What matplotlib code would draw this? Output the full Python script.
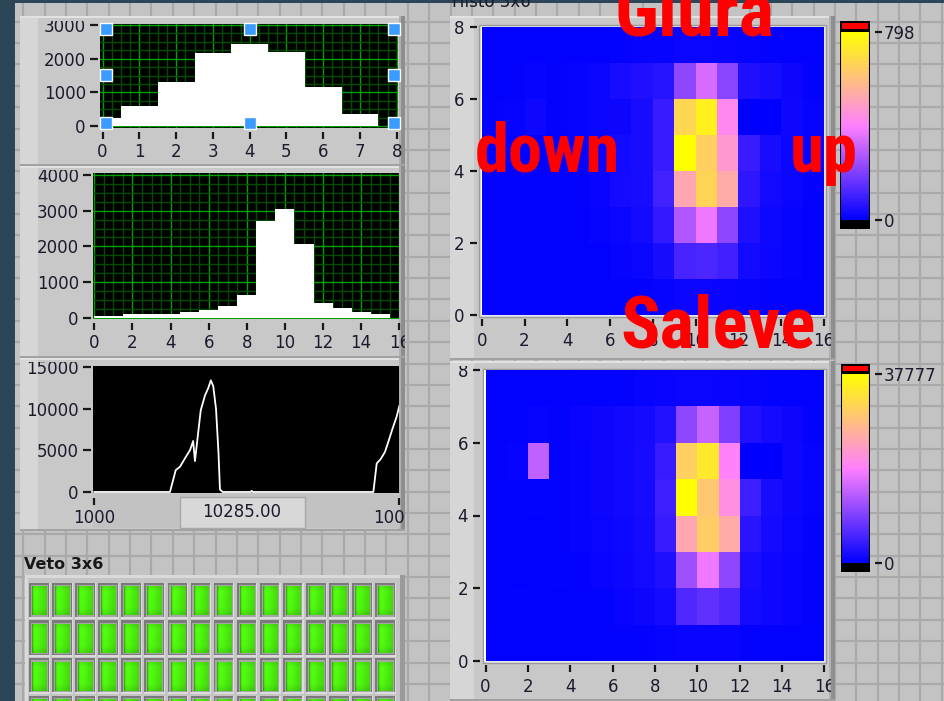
import numpy as np
import matplotlib
matplotlib.use("Agg")
import matplotlib.pyplot as plt
from matplotlib.colors import LinearSegmentedColormap
from matplotlib.patches import Rectangle
from matplotlib.transforms import Bbox, TransformedBbox
from matplotlib import font_manager

# ---------------- data ----------------
hist1_bins = [0, 1, 2, 3, 4, 5, 6, 7, 8]
hist1_counts = [230, 594, 1297, 2158, 2426, 2208, 1148, 346, 0]

hist2_bins = [0, 1, 2, 3, 4, 5, 6, 7, 8, 9, 10, 11, 12, 13, 14, 15, 16]
hist2_counts = [56, 56, 100, 100, 100, 150, 205, 327, 626, 2710, 3056, 2056, 402, 262, 168, 100, 0]

wave_x = [0, 24.8, 26.7, 28.1, 29.7, 31.4, 32.4, 33.0, 33.9, 34.9, 36.3, 37.4, 38.2, 39.0, 39.9, 40.7,
          41.2, 42.1, 51.3, 51.6, 51.9, 91.5, 92.6, 93.9, 95.3, 96.4, 97.8, 99.1, 100]
wave_y = [0, 0, 2630, 3030, 4030, 5030, 6120, 3710, 6620, 9810, 11600, 12500, 13400, 12700, 10000, 4830,
          300, 0, 0, 150, 0, 0, 3430, 3950, 4800, 6020, 7620, 9000, 10300]
wave_ticks = [0, 100]
wave_ticklabels = ["1000", "10000"]
wave_readout = "10285.00"

# intensity histograms, rows from y=0 (bottom) to y=7 (top), 16 columns
histo_top = [
    [4, 4, 4, 4, 4, 4, 6, 8, 10, 16, 16, 14, 10, 8, 6, 4],
    [8, 4, 4, 4, 4, 6, 10, 16, 38, 112, 120, 100, 30, 20, 10, 6],
    [6, 4, 4, 4, 6, 10, 16, 30, 80, 275, 375, 223, 48, 24, 12, 6],
    [6, 6, 4, 6, 8, 14, 34, 40, 104, 523, 662, 535, 72, 30, 16, 8],
    [6, 8, 6, 6, 10, 16, 30, 40, 88, 798, 646, 471, 88, 40, 18, 10],
    [8, 10, 24, 8, 10, 16, 20, 40, 88, 670, 750, 423, 0, 0, 24, 12],
    [6, 8, 10, 8, 10, 16, 40, 48, 60, 223, 335, 215, 48, 40, 20, 8],
    [4, 4, 4, 4, 6, 6, 8, 10, 12, 16, 16, 14, 10, 8, 6, 4],
]
histo_top_max = 798

histo_bot = [
    [200, 200, 200, 200, 200, 300, 300, 400, 500, 700, 700, 600, 400, 300, 200, 200],
    [300, 300, 200, 200, 300, 400, 600, 900, 1500, 6000, 7200, 6000, 1500, 1100, 600, 300],
    [300, 200, 200, 300, 400, 700, 900, 1400, 2300, 11700, 17800, 10600, 2000, 1100, 600, 300],
    [400, 300, 200, 300, 500, 800, 1100, 1500, 4200, 24700, 30200, 25300, 3000, 1500, 800, 400],
    [300, 400, 300, 300, 500, 900, 1300, 1700, 4500, 37777, 29500, 21200, 4500, 1900, 900, 500],
    [400, 500, 14200, 400, 500, 900, 1300, 1700, 4200, 30600, 34400, 19300, 0, 0, 1100, 500],
    [300, 400, 500, 400, 600, 900, 1300, 1500, 2600, 10600, 14700, 9400, 2400, 1500, 900, 400],
    [200, 200, 200, 200, 300, 300, 400, 500, 600, 800, 800, 700, 500, 400, 300, 200],
]
histo_bot_max = 37777

veto_leds = [
    [1, 1, 1, 1, 1, 1, 1, 1, 1, 1, 1, 1, 1, 1, 1, 1],
    [1, 1, 1, 1, 1, 1, 1, 1, 1, 1, 1, 1, 1, 1, 1, 1],
    [1, 1, 1, 1, 1, 1, 1, 1, 1, 1, 1, 1, 1, 1, 1, 1],
    [1, 1, 1, 1, 1, 1, 1, 1, 1, 1, 1, 1, 1, 1, 1, 1],
]

# ---------------- setup ----------------
W, H = 945, 701
P = 0.72  # points per pixel at dpi 100
TXT = '#1c1a2c'
plt.rcParams['font.family'] = ['DejaVu Sans']
plt.rcParams['font.size'] = 12

fig = plt.figure(figsize=(W / 100, H / 100), dpi=100)
fig.patch.set_facecolor('#c3c3c3')


def rect_px(x0, y0, x1, y1):
    return [x0 / W, 1 - y1 / H, (x1 - x0) / W, (y1 - y0) / H]


def clipbox_px(x0, y0, x1, y1):
    return TransformedBbox(Bbox([[x0 / W, 1 - y1 / H], [x1 / W, 1 - y0 / H]]), fig.transFigure)


bg = fig.add_axes([0, 0, 1, 1], zorder=-10)
bg.set_xlim(0, W)
bg.set_ylim(H, 0)
bg.axis('off')

# background grid
gx = np.arange(23.3 - 21.36, W, 21.36)
gy = np.arange(534.4 - 25 * 21.36, H, 21.36)
bg.vlines(gx, 0, H, color='#a9a9a9', lw=1.6, zorder=0.2)
bg.hlines(gy, 0, W, color='#a9a9a9', lw=1.6, zorder=0.2)
bg.add_patch(Rectangle((0, 0), 15, H, facecolor='#2c4657', edgecolor='none', zorder=1))
bg.add_patch(Rectangle((0, 0), W, 2.5, facecolor='#2c4657', edgecolor='none', zorder=1))


def panel(x0, y0, x1, y1, strip=18):
    bg.add_patch(Rectangle((x0, y0), x1 - x0, y1 - y0, facecolor='#c8c8c8', edgecolor='none'))
    bg.add_patch(Rectangle((x0, y0), strip, y1 - y0, facecolor='#d6d6d6', edgecolor='none'))
    bg.add_patch(Rectangle((x0, y0), x1 - x0, 1.5, facecolor='#e2e2e2', edgecolor='none'))
    bg.add_patch(Rectangle((x1 - 4, y0), 4, y1 - y0, facecolor='#8e8e8e', edgecolor='none'))
    bg.add_patch(Rectangle((x1 - 6, y0), 2, y1 - y0, facecolor='#b0b0b0', edgecolor='none'))
    bg.add_patch(Rectangle((x0, y1 - 2), x1 - x0, 2, facecolor='#a2a2a2', edgecolor='none'))


P1 = (20, 16, 405, 166)
P2 = (20, 166, 405, 358)
P3 = (20, 358, 405, 531)
PH1 = (450, 16, 835, 360)
PH2 = (450, 361, 835, 701)
for p in (P1, P2, P3):
    panel(*p)
for p in (PH1, PH2):
    panel(*p, strip=24)

# lower strip of the chart (scroll area + readout)
bg.add_patch(Rectangle((93, 494), 307, 34, facecolor='#c2c2c2', edgecolor='none'))
bg.add_patch(Rectangle((180, 497), 125, 31, facecolor='#d8d8d8', edgecolor='#a8a8a8', lw=1))
bg.text(242, 512, wave_readout, ha='center', va='center', fontsize=12, color=TXT)

# LED panel
bg.add_patch(Rectangle((25, 575), 380, 130, facecolor='#c4c4c4', edgecolor='none'))
bg.add_patch(Rectangle((25, 575), 380, 3, facecolor='#dadada', edgecolor='none'))
bg.add_patch(Rectangle((25, 575), 3, 130, facecolor='#dadada', edgecolor='none'))
bg.add_patch(Rectangle((400, 575), 5, 130, facecolor='#9a9a9a', edgecolor='none'))
bg.text(24, 569, 'Veto 3x6', ha='left', va='baseline', fontsize=11.5, fontweight='bold', color='#181818')

bg.text(452, 7, 'Histo 3x6', ha='left', va='baseline', fontsize=12, color=TXT)


def style_axes(ax, clip_rect, ygap=2, ylen=8, xgap=4, xlen=7, ypad=3, xpad=3):
    for s in ax.spines.values():
        s.set_visible(False)
    ax.spines['left'].set_position(('outward', ygap * P))
    ax.spines['bottom'].set_position(('outward', xgap * P))
    ax.tick_params(axis='y', which='major', direction='out', length=ylen * P, width=1.6,
                   color='#181818', pad=ypad, labelsize=12, labelcolor=TXT)
    ax.tick_params(axis='x', which='major', direction='out', length=xlen * P, width=1.6,
                   color='#181818', pad=xpad, labelsize=12, labelcolor=TXT)
    ax.tick_params(which='minor', length=0)
    cb = clipbox_px(*clip_rect)
    for lab in ax.get_xticklabels() + ax.get_yticklabels():
        lab.set_clip_box(cb)
        lab.set_clip_on(True)


def green_grid(ax, xmin, ymin):
    ax.set_xticks(xmin, minor=True)
    ax.set_yticks(ymin, minor=True)
    ax.grid(which='minor', color='#004d00', lw=1.0, zorder=1)
    ax.grid(which='major', color='#00a000', lw=1.0, zorder=1)


# ---------------- histogram 1 ----------------
ax1 = fig.add_axes(rect_px(100, 24, 398.3, 127.7))
ax1.set_facecolor('black')
ax1.fill_between(hist1_bins, hist1_counts, step='mid', color='white', lw=0, zorder=3)
ax1.set_xlim(-0.07, 8.04)
ax1.set_ylim(-50, 3030)
ax1.set_xticks(range(0, 9))
ax1.set_yticks([0, 1000, 2000, 3000])
green_grid(ax1, np.arange(0, 8.01, 0.25), np.arange(0, 3001, 250))
ax1.set_axisbelow(True)
style_axes(ax1, (20, 21, 405, 166))

# ---------------- histogram 2 ----------------
ax2 = fig.add_axes(rect_px(93, 173, 399.5, 319.3))
ax2.set_facecolor('black')
ax2.fill_between(hist2_bins, hist2_counts, step='mid', color='white', lw=0, zorder=3)
ax2.set_xlim(-0.07, 16.01)
ax2.set_ylim(-45, 4056)
ax2.set_xticks(range(0, 17, 2))
ax2.set_yticks([0, 1000, 2000, 3000, 4000])
green_grid(ax2, np.arange(0, 16.01, 0.5), np.arange(0, 4001, 250))
ax2.set_axisbelow(True)
style_axes(ax2, (20, 170, 405, 358))

# ---------------- waveform chart ----------------
ax3 = fig.add_axes(rect_px(93, 366, 399.5, 493))
ax3.set_facecolor('black')
ax3.plot(wave_x, wave_y, color='white', lw=1.3, zorder=3)
ax3.set_xlim(-0.43, 100.07)
ax3.set_ylim(-120, 15120)
ax3.set_yticks([0, 5000, 10000, 15000])
ax3.set_xticks(wave_ticks)
ax3.set_xticklabels(wave_ticklabels)
style_axes(ax3, (20, 362, 405, 531), xgap=5)

# ---------------- intensity graphs ----------------
cmap = LinearSegmentedColormap.from_list('lv', [(0, '#0000ff'), (0.5, '#ff80ff'), (1, '#ffff00')])


def intensity(frame, data, vmax, clip_rect):
    ax = fig.add_axes(rect_px(*frame))
    ax.pcolormesh(np.arange(17), np.arange(9), np.array(data), cmap=cmap, vmin=0, vmax=vmax,
                  shading='flat', antialiased=False)
    ax.set_xlim(-0.05, 16)
    ax.set_ylim(0, 8)
    ax.set_xticks(range(0, 17, 2))
    ax.set_yticks(range(0, 9, 2))
    style_axes(ax, clip_rect, ygap=4, ylen=7, xgap=4, xlen=7, ypad=4, xpad=4)
    bg.add_patch(Rectangle((frame[0] - 1.5, frame[1] - 1.5), frame[2] - frame[0] + 3,
                           frame[3] - frame[1] + 3, facecolor='#e4e4ee', edgecolor='#9a9a9a', lw=1))
    return ax


axh1 = intensity((480.7, 26.7, 824, 315), histo_top, histo_top_max, (450, 21, 831, 360))
axh2 = intensity((484.5, 370, 824.5, 661), histo_bot, histo_bot_max, (450, 366, 831, 701))


def colorbar(x0, x1, y0, gtop, gbot, y1, vmax):
    cax = fig.add_axes(rect_px(x0, y0, x1, y1))
    per_px = vmax / (gbot - gtop)
    lo = -(y1 - gbot) * per_px
    hi = vmax + (gtop - y0) * per_px
    cax.set_xlim(0, 1)
    cax.set_ylim(lo, hi)
    grad = np.linspace(0, 1, 256).reshape(-1, 1)
    cax.imshow(grad, cmap=cmap, aspect='auto', extent=(0, 1, 0, vmax), origin='lower', zorder=1)
    cax.add_patch(Rectangle((0, lo), 1, -lo, facecolor='black', edgecolor='none', zorder=2))
    cax.add_patch(Rectangle((0, vmax), 1, hi - vmax, facecolor='black', edgecolor='none', zorder=2))
    cax.add_patch(Rectangle((0.08, vmax + 3.5 * per_px), 0.84, (gtop - y0 - 5.5) * per_px,
                            facecolor='#ff0000', edgecolor='none', zorder=3))
    for s in cax.spines.values():
        s.set_visible(False)
    cax.add_patch(Rectangle((0, lo), 1, hi - lo, fill=False, edgecolor='black', lw=1.5, zorder=4))
    cax.spines['right'].set_position(('outward', 5 * P))
    cax.yaxis.tick_right()
    cax.set_xticks([])
    cax.set_yticks([0, vmax])
    cax.set_yticklabels(['0', str(vmax)])
    cax.tick_params(axis='y', direction='out', length=7 * P, width=1.6, color='#181818', pad=1,
                    labelsize=12, labelcolor=TXT)
    return cax


colorbar(840, 870, 21, 32.3, 220, 228.5, histo_top_max)
colorbar(841, 870, 364, 374, 562.7, 571.7, histo_bot_max)

# ---------------- veto LEDs ----------------
led_ax = fig.add_axes(rect_px(28, 582, 397, 701))
led_ax.axis('off')
gh = np.linspace(0, 1, 14)
gv = np.linspace(0, 1, 14)
hprof = np.interp(gh, [0, 0.1, 0.3, 1], [0.72, 1.0, 1.0, 0.86])
vprof = np.interp(gv, [0, 0.15, 0.8, 1], [0.93, 1.0, 0.98, 0.88])
shade = np.outer(vprof, hprof)
base = np.array([0.32, 1.0, 0.06])
led_img = np.clip(shade[..., None] * base[None, None, :], 0, 1)
for r, row in enumerate(veto_leds):
    for c, on in enumerate(row):
        led_ax.add_patch(Rectangle((c - 0.45, r - 0.48), 0.90, 0.96, facecolor='#dcdcdc', edgecolor='none'))
        led_ax.add_patch(Rectangle((c - 0.45, r - 0.48), 0.85, 0.91, facecolor='#7a7a7a', edgecolor='none'))
        led_ax.add_patch(Rectangle((c - 0.37, r - 0.42), 0.74, 0.84, facecolor='#a6a6a6', edgecolor='none'))
        img = led_img if on else led_img * 0.35
        led_ax.imshow(img, extent=(c - 0.32, c + 0.32, r + 0.38, r - 0.38), aspect='auto',
                      interpolation='bilinear', zorder=3)
led_ax.set_xlim(-0.5, 15.5)
led_ax.set_ylim(2.657, -0.5)

# ---------------- overlay: selection handles and red annotations ----------------
ov = fig.add_axes([0, 0, 1, 1], zorder=100)
ov.set_xlim(0, W)
ov.set_ylim(H, 0)
ov.axis('off')
ov.patch.set_alpha(0)

for hx in (106, 250, 394):
    for hy in (29, 123):
        ov.add_patch(Rectangle((hx - 6, hy - 6), 12, 12, facecolor='#3a9cff', edgecolor='white', lw=1))
for hx in (106, 394):
    ov.add_patch(Rectangle((hx - 6, 75 - 6), 12, 12, facecolor='#3a9cff', edgecolor='white', lw=1))

names = {f.name for f in font_manager.fontManager.ttflist}
red_family = next((n for n in ['Liberation Sans Narrow', 'Roboto Condensed', 'DejaVu Sans Condensed', 'DejaVu Sans']
                   if n in names), 'DejaVu Sans')

renderer = fig.canvas.get_renderer()
for s, x0, x1, base_y in [('Giura', 615, 775, 35), ('down', 475, 620, 172),
                          ('up', 790, 858, 172), ('Saleve', 620, 815, 348)]:
    t = ov.text(x0, base_y, s, color='#ff0000', fontsize=46, fontweight='bold', family=red_family,
                ha='left', va='baseline')
    bb = t.get_window_extent(renderer)
    t.set_fontsize(46 * (x1 - x0) / bb.width)

fig.savefig('out.png', dpi=100, facecolor=fig.get_facecolor())
